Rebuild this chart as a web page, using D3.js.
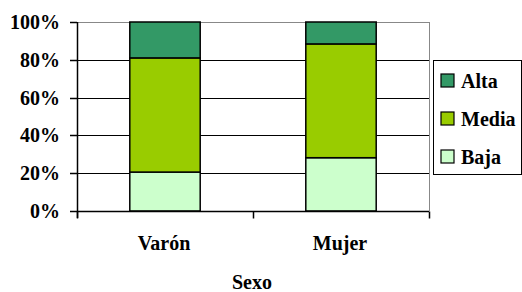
<!DOCTYPE html>
<html><head><meta charset="utf-8">
<script src="https://cdn.jsdelivr.net/npm/d3@7/dist/d3.min.js"></script>
</head><body style="margin:0;background:#fff">
<svg id="c" width="522" height="292" font-family="Liberation Serif" font-weight="bold" font-size="20"></svg>
<script>
const categories = ["Varón", "Mujer"];
const seriesNames = ["Baja", "Media", "Alta"];
const baja = [20.6, 28.2];
const media = [60.4, 60.2];
const alta = [19.0, 11.6];
const yTicks = [0, 20, 40, 60, 80, 100];
const colors = {"Baja": "#CCFFCC", "Media": "#99CC00", "Alta": "#339966"};
const xTitle = "Sexo";
const FS = 20;

const svg = d3.select("#c");
const m = {l: 77, t: 22, r: 429, b: 211};
const x = d3.scaleBand().domain(categories).range([m.l, m.r]).paddingInner(0.6).paddingOuter(0.3);
const y = d3.scaleLinear().domain([0, 100]).range([m.b, m.t]);

const rows = categories.map((c, i) => ({cat: c, Baja: baja[i], Media: media[i], Alta: alta[i]}));
const stack = d3.stack().keys(seriesNames)(rows);
const font = s => s.attr("font-family", "Liberation Serif").attr("font-weight", "bold").attr("font-size", FS).attr("fill", "#000");

svg.append("g").selectAll("line").data(yTicks.filter(d => d > 0)).join("line")
  .attr("x1", m.l).attr("x2", m.r).attr("y1", d => Math.round(y(d)) + 0.5).attr("y2", d => Math.round(y(d)) + 0.5)
  .attr("stroke", d => d === 100 ? "#888" : "#000").attr("stroke-width", d => d === 100 ? 1 : 1.2);
svg.append("line").attr("x1", m.r + 0.5).attr("x2", m.r + 0.5).attr("y1", m.t).attr("y2", m.b).attr("stroke", "#888");

svg.append("g").selectAll("g").data(stack).join("g").attr("fill", d => colors[d.key])
  .selectAll("rect").data(d => d).join("rect")
  .attr("x", d => x(d.data.cat)).attr("width", x.bandwidth())
  .attr("y", d => y(d[1])).attr("height", d => y(d[0]) - y(d[1]))
  .attr("stroke", "#000").attr("stroke-width", 1.5);

const ya = svg.append("g");
ya.append("line").attr("x1", m.l + 0.5).attr("x2", m.l + 0.5).attr("y1", m.t).attr("y2", m.b + 7)
  .attr("stroke", "#000").attr("stroke-width", 1.5);
ya.selectAll(".tl").data(yTicks).join("line").attr("class", "tl")
  .attr("x1", m.l - 7).attr("x2", m.l).attr("y1", d => Math.round(y(d)) + 0.5).attr("y2", d => Math.round(y(d)) + 0.5)
  .attr("stroke", "#000").attr("stroke-width", 1.5);
ya.selectAll("text").data(yTicks).join("text").call(font)
  .attr("x", 60).attr("y", d => y(d) + 7).attr("text-anchor", "end").text(d => d + "%");

const bx = d3.scaleLinear().domain([0, 2]).range([m.l, m.r]);
const xa = svg.append("g").attr("transform", `translate(0,${m.b + 0.5})`);
xa.append("line").attr("x1", m.l).attr("x2", m.r).attr("stroke", "#000").attr("stroke-width", 1.5);
xa.selectAll(".tk").data([0, 1, 2]).join("line").attr("class", "tk")
  .attr("x1", d => bx(d) + 0.5).attr("x2", d => bx(d) + 0.5).attr("y1", 0).attr("y2", 7)
  .attr("stroke", "#000").attr("stroke-width", 1.5);
svg.selectAll(".xl").data(categories).join("text").attr("class", "xl").call(font)
  .attr("x", d => x(d) + x.bandwidth() / 2 - 1).attr("y", 250).attr("text-anchor", "middle")
  .text(d => d);
svg.append("text").call(font)
  .attr("x", 252).attr("y", 289).attr("text-anchor", "middle").text(xTitle);

const lg = svg.append("g");
lg.append("rect").attr("x", 433.5).attr("y", 60.5).attr("width", 88).attr("height", 114)
  .attr("fill", "#fff").attr("stroke", "#000").attr("stroke-width", 1);
const legendItems = ["Alta", "Media", "Baja"];
legendItems.forEach((k, i) => {
  const cy = 81 + i * 38;
  lg.append("rect").attr("x", 441).attr("y", cy - 7).attr("width", 13).attr("height", 13)
    .attr("fill", colors[k]).attr("stroke", "#000").attr("stroke-width", 1.2);
  lg.append("text").call(font).attr("x", 461).attr("y", cy + 7).text(k);
});
</script></body></html>
